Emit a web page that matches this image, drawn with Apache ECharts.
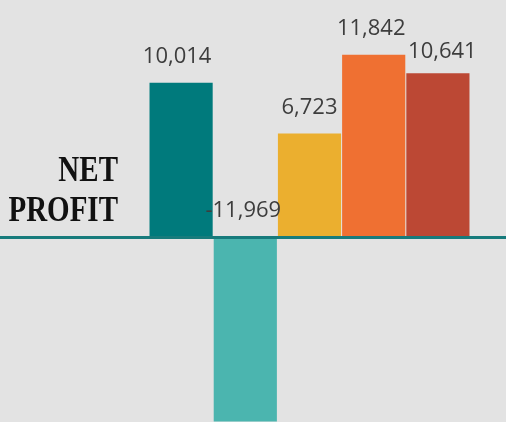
<!DOCTYPE html>
<html><head><meta charset="utf-8">
<script src="https://cdn.jsdelivr.net/npm/echarts@6/dist/echarts.min.js"></script>
<style>html,body{margin:0;padding:0;background:#e3e3e3;}#c{width:506px;height:422px;}</style>
</head><body><div id="c"></div>
<script>
const categories = ['A', 'B', 'C', 'D', 'E'];
const netProfit = [10014, -11969, 6723, 11842, 10641];
const barColors = ['#007a7c', '#4bb5af', '#ebaf2f', '#ef7032', '#bc4834'];
const titleLines = ['NET', 'PROFIT'];

const labelNudge = [[-4, 0], [-2, 0], [0, 0], [-2.5, 0], [4.5, 5]];

const chart = echarts.init(document.getElementById('c'), null, {renderer: 'canvas'});
chart.setOption({
  backgroundColor: '#e3e3e3',
  animation: false,
  grid: {left: 149, right: 36, top: 6, bottom: -2, containLabel: false},
  xAxis: {type: 'category', data: categories, show: false},
  yAxis: {type: 'value', min: -12000, max: 15000, show: false, splitLine: {show: false}},
  series: [{
    type: 'bar',
    barCategoryGap: '1.6%',
    data: netProfit.map((v, i) => ({value: v, itemStyle: {color: barColors[i]}, label: {offset: labelNudge[i]}})),
    label: {
      show: true,
      position: 'top',
      distance: 15,
      color: '#3d3d3d',
      fontFamily: '"Open Sans", "Noto Sans", sans-serif',
      fontSize: 22,
      formatter: p => p.value.toLocaleString('en-US')
    }
  }]
});

const y0 = chart.convertToPixel({yAxisIndex: 0}, 0);
chart.setOption({
  graphic: [
    {type: 'line', z: 100, shape: {x1: 0, y1: y0 + 0.5, x2: 506, y2: y0 + 0.5},
     style: {stroke: '#177b7c', lineWidth: 3}},
    {type: 'text', x: 118, y: 155, scaleY: 1.2,
     style: {text: titleLines[0], font: 'bold 29px "Liberation Serif", serif', fill: '#111', textAlign: 'right', textVerticalAlign: 'top'}},
    {type: 'text', x: 118, y: 195, scaleY: 1.2,
     style: {text: titleLines[1], font: 'bold 29px "Liberation Serif", serif', fill: '#111', textAlign: 'right', textVerticalAlign: 'top'}}
  ]
});
</script>
</body></html>
